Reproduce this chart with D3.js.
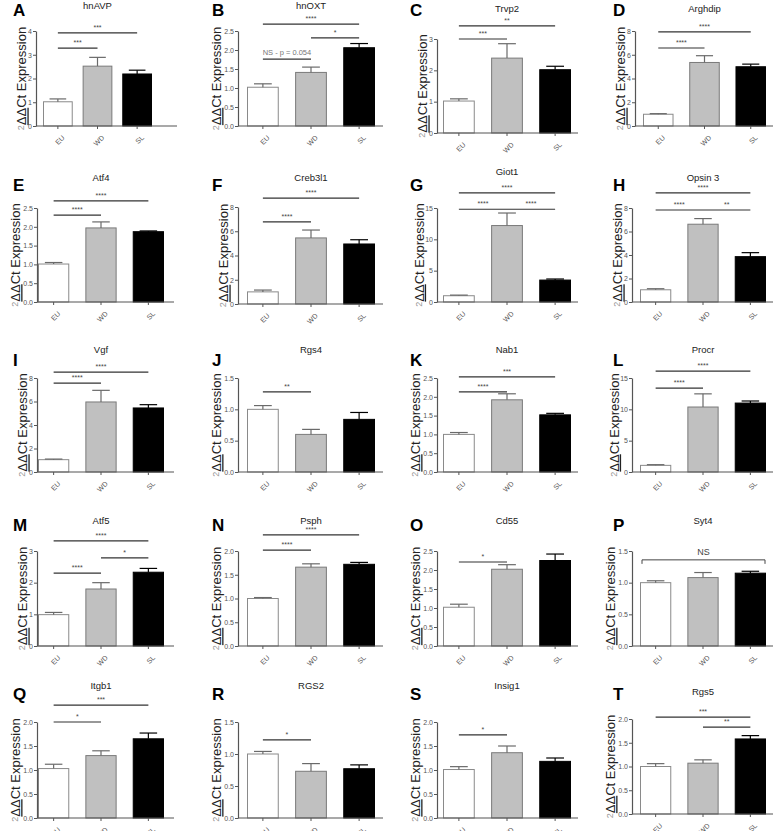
<!DOCTYPE html>
<html><head><meta charset="utf-8">
<script src="https://cdn.jsdelivr.net/npm/d3@7"></script>
<style>body{margin:0;background:#fff} svg{display:block;font-family:"Liberation Sans",Arial,sans-serif}</style>
</head><body><svg id="c" width="779" height="831"></svg>
<script>
// ---------- DATA ----------
const letters = ["A","B","C","D","E","F","G","H","I","J","K","L","M","N","O","P","Q","R","S","T"];
const genes = ["hnAVP","hnOXT","Trvp2","Arghdip","Atf4","Creb3l1","Giot1","Opsin 3","Vgf","Rgs4","Nab1","Procr","Atf5","Psph","Cd55","Syt4","Itgb1","RGS2","Insig1","Rgs5"];
const groups = ["EU","WD","SL"];
const euMean = [1.02,1.02,1.02,0.99,1.01,1.00,1.00,1.04,1.05,1.00,1.00,1.06,0.99,1.00,1.02,1.00,1.03,1.00,1.01,1.00];
const wdMean = [2.52,1.41,2.39,5.35,1.97,5.45,12.2,6.62,5.96,0.60,1.92,10.37,1.80,1.66,2.02,1.08,1.30,0.73,1.36,1.07];
const slMean = [2.19,2.06,2.02,4.99,1.87,4.95,3.50,3.86,5.45,0.84,1.52,11.0,2.33,1.72,2.25,1.15,1.65,0.77,1.18,1.58];
const euSem  = [0.12,0.09,0.07,0.05,0.04,0.15,0.10,0.09,0.05,0.06,0.05,0.11,0.07,0.02,0.08,0.03,0.09,0.04,0.06,0.06];
const wdSem  = [0.37,0.14,0.46,0.57,0.16,0.65,2.00,0.48,0.99,0.08,0.16,2.10,0.20,0.07,0.12,0.08,0.10,0.12,0.14,0.07];
const slSem  = [0.16,0.11,0.11,0.22,0.02,0.35,0.17,0.34,0.28,0.11,0.04,0.33,0.12,0.04,0.17,0.03,0.12,0.06,0.07,0.07];
const yMax   = [4,2.5,3,8,2.5,8,15,8,8,1.5,2.5,15,3,2,2.5,1.5,2,1.5,2,2];
const yStep  = [1,0.5,1,2,0.5,2,5,2,2,0.5,0.5,5,1,0.5,0.5,0.5,0.5,0.5,0.5,0.5];
// comparisons: [groupA index, groupB index, label, bracket height (data units)]
const comparisons = [
  [[0,2,"***",3.92],[0,1,"***",3.28]],
  [[0,2,"****",2.68],[1,2,"*",2.32],[0,1,"NS - p = 0.054",1.76]],
  [[0,2,"**",3.42],[0,1,"***",3.0]],
  [[0,2,"****",7.92],[0,1,"****",6.57]],
  [[0,2,"****",2.69],[0,1,"****",2.31]],
  [[0,2,"****",8.74],[0,1,"****",6.77]],
  [[0,2,"****",17.4],[0,1,"****",14.8],[1,2,"****",14.8]],
  [[0,2,"****",9.28],[0,1,"****",7.83],[1,2,"**",7.83]],
  [[0,2,"****",8.5],[0,1,"****",7.57]],
  [[0,1,"**",1.28]],
  [[0,2,"***",2.53],[0,1,"****",2.13]],
  [[0,2,"****",16.1],[0,1,"****",13.4]],
  [[0,2,"****",3.32],[0,1,"****",2.3],[1,2,"*",2.78]],
  [[0,2,"****",2.34],[0,1,"****",2.02]],
  [[0,1,"*",2.21]],
  [[0,2,"NS",1.36]],
  [[0,2,"***",2.35],[0,1,"*",2.0]],
  [[0,1,"*",1.22]],
  [[0,1,"*",1.73]],
  [[0,2,"***",2.04],[1,2,"**",1.83]]
];

// ---------- LAYOUT ----------
const colAxisX = [37,238,437,632], colAxisEnd = [174,383,578,773];
const colBar0 = [38,247,443,640], colBar1 = [164,375,571,766];
const rowTop = [31,208,378,551,722], rowBot = [126,302,472,646,818];
const rowTitleY = [10,181,353,524,689], rowLetterY = [16,191,366,531,700];
const colLetterX = [13,212,410,613];
const overrides = {
  0:{axisX:36,bar0:43,bar1:152,axisEnd:177,pad:0.25,titleY:9},
  1:{titleY:9},
  2:{top:39,bot:133,titleY:12},
  3:{axisX:635,bar0:643,titleY:12},
  5:{top:207,bot:304},
  6:{titleY:175},
  19:{top:719,bot:814,titleY:695}
};
const fills = {EU:"#ffffff", WD:"#c0c0c0", SL:"#000000"};
const strokes = {EU:"#8a8a8a", WD:"#7a7a7a", SL:"#000000"};

const svg = d3.select("#c");

letters.forEach((L,i)=>{
  const r = Math.floor(i/4), c = i%4;
  const o = overrides[i] || {};
  const axisX = o.axisX ?? colAxisX[c], axisEnd = o.axisEnd ?? colAxisEnd[c];
  const b0 = o.bar0 ?? colBar0[c], b1 = o.bar1 ?? colBar1[c];
  const top = o.top ?? rowTop[r], bot = o.bot ?? rowBot[r];
  const g = svg.append("g");

  const y = d3.scaleLinear().domain([0,yMax[i]]).range([bot,top]);
  const x = d3.scaleBand().domain(groups).range([b0,b1]).paddingInner(o.pad ?? 0.34).paddingOuter(0);
  const bw = x.bandwidth();
  const means = [euMean[i],wdMean[i],slMean[i]];
  const sems = [euSem[i],wdSem[i],slSem[i]];

  // letter & title
  g.append("text").attr("x",colLetterX[c]).attr("y",rowLetterY[r]).attr("font-size",17).attr("font-weight","bold").attr("fill","#000").text(L);
  g.append("text").attr("x",(b0+b1)/2).attr("y",o.titleY ?? rowTitleY[r]).attr("text-anchor","middle").attr("font-size",9.5).attr("fill","#222").text(genes[i]);

  // bars
  groups.forEach((grp,k)=>{
    const v = means[k], e = sems[k], cx = x(grp)+bw/2;
    g.append("rect").attr("x",x(grp)+0.5).attr("y",y(v)).attr("width",bw-1).attr("height",bot-y(v))
      .attr("fill",fills[grp]).attr("stroke",strokes[grp]).attr("stroke-width",1);
    const ec = grp==="SL" ? "#000" : "#6a6a6a";
    g.append("line").attr("x1",cx).attr("x2",cx).attr("y1",y(v)).attr("y2",y(v+e)).attr("stroke",ec).attr("stroke-width",1.2);
    g.append("line").attr("x1",cx-bw*0.28).attr("x2",cx+bw*0.28).attr("y1",y(v+e)).attr("y2",y(v+e)).attr("stroke",ec).attr("stroke-width",1.2);
  });

  // y axis
  const fmt = yStep[i] < 1 ? d3.format(".1f") : d3.format("d");
  const tv = d3.range(0, yMax[i]+yStep[i]/2, yStep[i]);
  const ya = g.append("g").attr("transform",`translate(${axisX},0)`)
    .call(d3.axisLeft(y).tickValues(tv).tickFormat(fmt).tickSize(3).tickSizeOuter(0));
  ya.select(".domain").attr("stroke","#555").attr("stroke-width",1.2);
  ya.selectAll(".tick line").attr("stroke","#555");
  ya.selectAll(".tick text").attr("font-size",7).attr("fill","#555").attr("font-family","Liberation Sans, Arial, sans-serif").attr("x",-4);

  // x axis
  g.append("line").attr("x1",axisX).attr("x2",axisEnd).attr("y1",bot).attr("y2",bot).attr("stroke","#555").attr("stroke-width",1.2);
  const xa = g.append("g").attr("transform",`translate(0,${bot})`)
    .call(d3.axisBottom(x).tickSize(3).tickSizeOuter(0));
  xa.select(".domain").remove();
  xa.selectAll(".tick line").attr("stroke","#555");
  xa.selectAll(".tick text").attr("font-size",7).attr("fill","#555").attr("font-family","Liberation Sans, Arial, sans-serif")
    .attr("text-anchor","end").attr("dy",0).attr("transform","translate(3,8) rotate(-45)");

  // y label
  const maxLen = d3.max(tv, t=>fmt(t).length);
  const lx = axisX - 6 - maxLen*3.6;
  const yl = g.append("text").attr("transform",`translate(${lx},${(top+bot)/2}) rotate(-90)`)
    .attr("text-anchor","middle").attr("font-size",13).attr("fill","#222");
  yl.append("tspan").attr("font-size",9).attr("fill","#999").attr("dy",-2).text("2");
  yl.append("tspan").attr("dy",2).attr("text-decoration","underline").text("ΔΔ");
  yl.append("tspan").text("Ct Expression");

  // significance
  comparisons[i].forEach(([a,b,lab,h])=>{
    const xa1 = x(groups[a])+bw/2, xb1 = x(groups[b])+bw/2, yy = y(h);
    if (lab === "NS") {
      const x1 = x(groups[a])+2, x2 = x(groups[b])+bw-1;
      g.append("path").attr("d",`M${x1},${yy+4}V${yy}H${x2}V${yy+4}`).attr("fill","none").attr("stroke","#444").attr("stroke-width",1);
      g.append("text").attr("x",(x1+x2)/2).attr("y",yy-5).attr("text-anchor","middle").attr("font-size",9).attr("fill","#444").text(lab);
    } else {
      g.append("line").attr("x1",xa1).attr("x2",xb1).attr("y1",yy).attr("y2",yy).attr("stroke","#333").attr("stroke-width",1.2);
      const isNS = lab.startsWith("NS");
      g.append("text").attr("x",(xa1+xb1)/2).attr("y",isNS? yy-4 : yy-3).attr("text-anchor","middle")
        .attr("font-size",isNS?7.5:7).attr("fill",isNS?"#777":"#444").text(lab);
    }
  });
});
</script></body></html>
